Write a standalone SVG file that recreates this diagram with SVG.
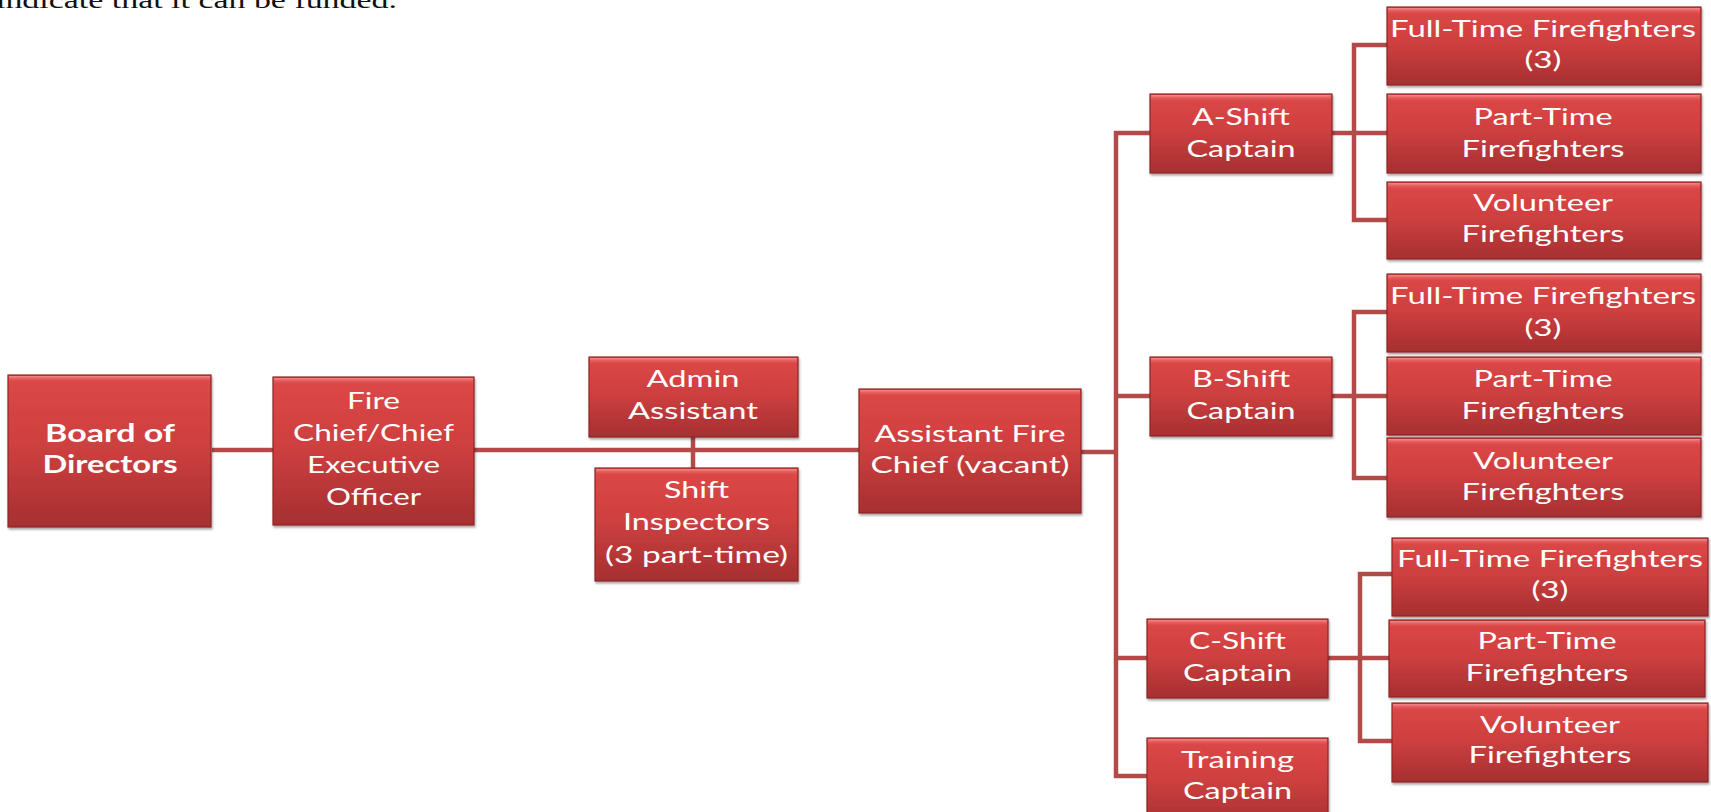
<svg xmlns="http://www.w3.org/2000/svg" width="1711" height="812" viewBox="0 0 1711 812">
<defs>
<linearGradient id="g" x1="0" y1="0" x2="0" y2="1">
<stop offset="0" stop-color="#dd4747"/>
<stop offset="0.45" stop-color="#cf4040"/>
<stop offset="1" stop-color="#a62f30"/>
</linearGradient>
<linearGradient id="hl" x1="0" y1="0" x2="0" y2="1">
<stop offset="0" stop-color="#f58a8a"/>
<stop offset="1" stop-color="#e05555" stop-opacity="0"/>
</linearGradient>
<filter id="sh" x="-5%" y="-5%" width="110%" height="115%">
<feDropShadow dx="1" dy="2" stdDeviation="1.2" flood-color="#000" flood-opacity="0.35"/>
</filter>
</defs>
<style>
.box{fill:url(#g);stroke:#8e2626;stroke-width:1.2;filter:url(#sh)}
.hl{fill:url(#hl)}
.t{font-family:Lato,"Liberation Sans",sans-serif;font-size:24px;fill:#ffffff;text-anchor:middle}
.b{font-weight:bold}
.c{fill:none;stroke:#b24a4a;stroke-width:4.5}
.doc{font-family:"Liberation Serif",serif;font-size:23px;fill:#111}
</style>
<rect width="1711" height="812" fill="#ffffff"/>
<text class="doc" x="-4" y="8" textLength="401" lengthAdjust="spacingAndGlyphs">indicate that it can be funded.</text>

<g id="connectors">
<path class="c" d="M212 450H273"/>
<path class="c" d="M474 450H859"/>
<path class="c" d="M693 437V468"/>
<path class="c" d="M1081 452H1116"/>
<path class="c" d="M1150 133H1116V776H1147M1116 396H1150M1116 658H1147"/>
<path class="c" d="M1332 133H1388M1388 45H1354V220H1388"/>
<path class="c" d="M1332 396H1388M1388 312H1354V478H1388"/>
<path class="c" d="M1328 658H1389M1392 574H1360V741H1392"/>
</g>

<g id="board"><rect class="box" x="8" y="375" width="203" height="152"/><rect class="hl" x="9" y="376" width="201" height="6"/><text class="t b" x="110" y="442" textLength="130" lengthAdjust="spacingAndGlyphs">Board of</text><text class="t b" x="110" y="473" textLength="135" lengthAdjust="spacingAndGlyphs">Directors</text></g>
<g id="fire-chief"><rect class="box" x="273" y="377" width="201" height="148"/><rect class="hl" x="274" y="378" width="199" height="6"/><text class="t" x="373.5" y="409" textLength="53" lengthAdjust="spacingAndGlyphs">Fire</text><text class="t" x="373.5" y="441" textLength="161" lengthAdjust="spacingAndGlyphs">Chief/Chief</text><text class="t" x="373.5" y="473" textLength="133" lengthAdjust="spacingAndGlyphs">Executive</text><text class="t" x="373.5" y="505" textLength="95" lengthAdjust="spacingAndGlyphs">Officer</text></g>
<g id="admin"><rect class="box" x="589" y="357" width="209" height="80"/><rect class="hl" x="590" y="358" width="207" height="6"/><text class="t" x="693" y="387" textLength="93" lengthAdjust="spacingAndGlyphs">Admin</text><text class="t" x="693" y="419" textLength="130" lengthAdjust="spacingAndGlyphs">Assistant</text></g>
<g id="shift-inspectors"><rect class="box" x="595" y="468" width="203" height="113"/><rect class="hl" x="596" y="469" width="201" height="6"/><text class="t" x="696.5" y="498" textLength="65" lengthAdjust="spacingAndGlyphs">Shift</text><text class="t" x="696.5" y="530" textLength="147" lengthAdjust="spacingAndGlyphs">Inspectors</text><text class="t" x="696.5" y="563" textLength="183" lengthAdjust="spacingAndGlyphs">(3 part-time)</text></g>
<g id="assistant-chief"><rect class="box" x="859" y="389" width="222" height="124"/><rect class="hl" x="860" y="390" width="220" height="6"/><text class="t" x="970" y="442" textLength="191" lengthAdjust="spacingAndGlyphs">Assistant Fire</text><text class="t" x="970" y="473" textLength="199" lengthAdjust="spacingAndGlyphs">Chief (vacant)</text></g>

<g id="a-shift"><rect class="box" x="1150" y="94" width="182" height="79"/><rect class="hl" x="1151" y="95" width="180" height="6"/><text class="t" x="1241" y="125" textLength="98" lengthAdjust="spacingAndGlyphs">A-Shift</text><text class="t" x="1241" y="157" textLength="109" lengthAdjust="spacingAndGlyphs">Captain</text></g>
<g id="b-shift"><rect class="box" x="1150" y="357" width="182" height="79"/><rect class="hl" x="1151" y="358" width="180" height="6"/><text class="t" x="1241" y="387" textLength="98" lengthAdjust="spacingAndGlyphs">B-Shift</text><text class="t" x="1241" y="419" textLength="109" lengthAdjust="spacingAndGlyphs">Captain</text></g>
<g id="c-shift"><rect class="box" x="1147" y="619" width="181" height="79"/><rect class="hl" x="1148" y="620" width="179" height="6"/><text class="t" x="1237.5" y="649" textLength="97" lengthAdjust="spacingAndGlyphs">C-Shift</text><text class="t" x="1237.5" y="681" textLength="109" lengthAdjust="spacingAndGlyphs">Captain</text></g>
<g id="training"><rect class="box" x="1147" y="738" width="181" height="90"/><rect class="hl" x="1148" y="739" width="179" height="6"/><text class="t" x="1237.5" y="768" textLength="113" lengthAdjust="spacingAndGlyphs">Training</text><text class="t" x="1237.5" y="799" textLength="109" lengthAdjust="spacingAndGlyphs">Captain</text></g>

<g id="a-fulltime"><rect class="box" x="1387" y="7" width="314" height="78"/><rect class="hl" x="1388" y="8" width="312" height="6"/><text class="t" x="1543" y="37" textLength="306" lengthAdjust="spacingAndGlyphs">Full-Time Firefighters</text><text class="t" x="1543" y="68" textLength="37" lengthAdjust="spacingAndGlyphs">(3)</text></g>
<g id="a-parttime"><rect class="box" x="1387" y="94" width="314" height="79"/><rect class="hl" x="1388" y="95" width="312" height="6"/><text class="t" x="1543" y="125" textLength="139" lengthAdjust="spacingAndGlyphs">Part-Time</text><text class="t" x="1543" y="157" textLength="163" lengthAdjust="spacingAndGlyphs">Firefighters</text></g>
<g id="a-volunteer"><rect class="box" x="1387" y="182" width="314" height="77"/><rect class="hl" x="1388" y="183" width="312" height="6"/><text class="t" x="1543" y="211" textLength="140" lengthAdjust="spacingAndGlyphs">Volunteer</text><text class="t" x="1543" y="242" textLength="163" lengthAdjust="spacingAndGlyphs">Firefighters</text></g>

<g id="b-fulltime"><rect class="box" x="1387" y="274" width="314" height="78"/><rect class="hl" x="1388" y="275" width="312" height="6"/><text class="t" x="1543" y="304" textLength="306" lengthAdjust="spacingAndGlyphs">Full-Time Firefighters</text><text class="t" x="1543" y="336" textLength="37" lengthAdjust="spacingAndGlyphs">(3)</text></g>
<g id="b-parttime"><rect class="box" x="1387" y="357" width="314" height="78"/><rect class="hl" x="1388" y="358" width="312" height="6"/><text class="t" x="1543" y="387" textLength="139" lengthAdjust="spacingAndGlyphs">Part-Time</text><text class="t" x="1543" y="419" textLength="163" lengthAdjust="spacingAndGlyphs">Firefighters</text></g>
<g id="b-volunteer"><rect class="box" x="1387" y="438" width="314" height="79"/><rect class="hl" x="1388" y="439" width="312" height="6"/><text class="t" x="1543" y="469" textLength="140" lengthAdjust="spacingAndGlyphs">Volunteer</text><text class="t" x="1543" y="500" textLength="163" lengthAdjust="spacingAndGlyphs">Firefighters</text></g>

<g id="c-fulltime"><rect class="box" x="1392" y="538" width="316" height="78"/><rect class="hl" x="1393" y="539" width="314" height="6"/><text class="t" x="1550" y="567" textLength="306" lengthAdjust="spacingAndGlyphs">Full-Time Firefighters</text><text class="t" x="1550" y="598" textLength="37" lengthAdjust="spacingAndGlyphs">(3)</text></g>
<g id="c-parttime"><rect class="box" x="1389" y="620" width="316" height="77"/><rect class="hl" x="1390" y="621" width="314" height="6"/><text class="t" x="1547" y="649" textLength="139" lengthAdjust="spacingAndGlyphs">Part-Time</text><text class="t" x="1547" y="681" textLength="163" lengthAdjust="spacingAndGlyphs">Firefighters</text></g>
<g id="c-volunteer"><rect class="box" x="1392" y="703" width="316" height="79"/><rect class="hl" x="1393" y="704" width="314" height="6"/><text class="t" x="1550" y="733" textLength="140" lengthAdjust="spacingAndGlyphs">Volunteer</text><text class="t" x="1550" y="763" textLength="163" lengthAdjust="spacingAndGlyphs">Firefighters</text></g>
</svg>
